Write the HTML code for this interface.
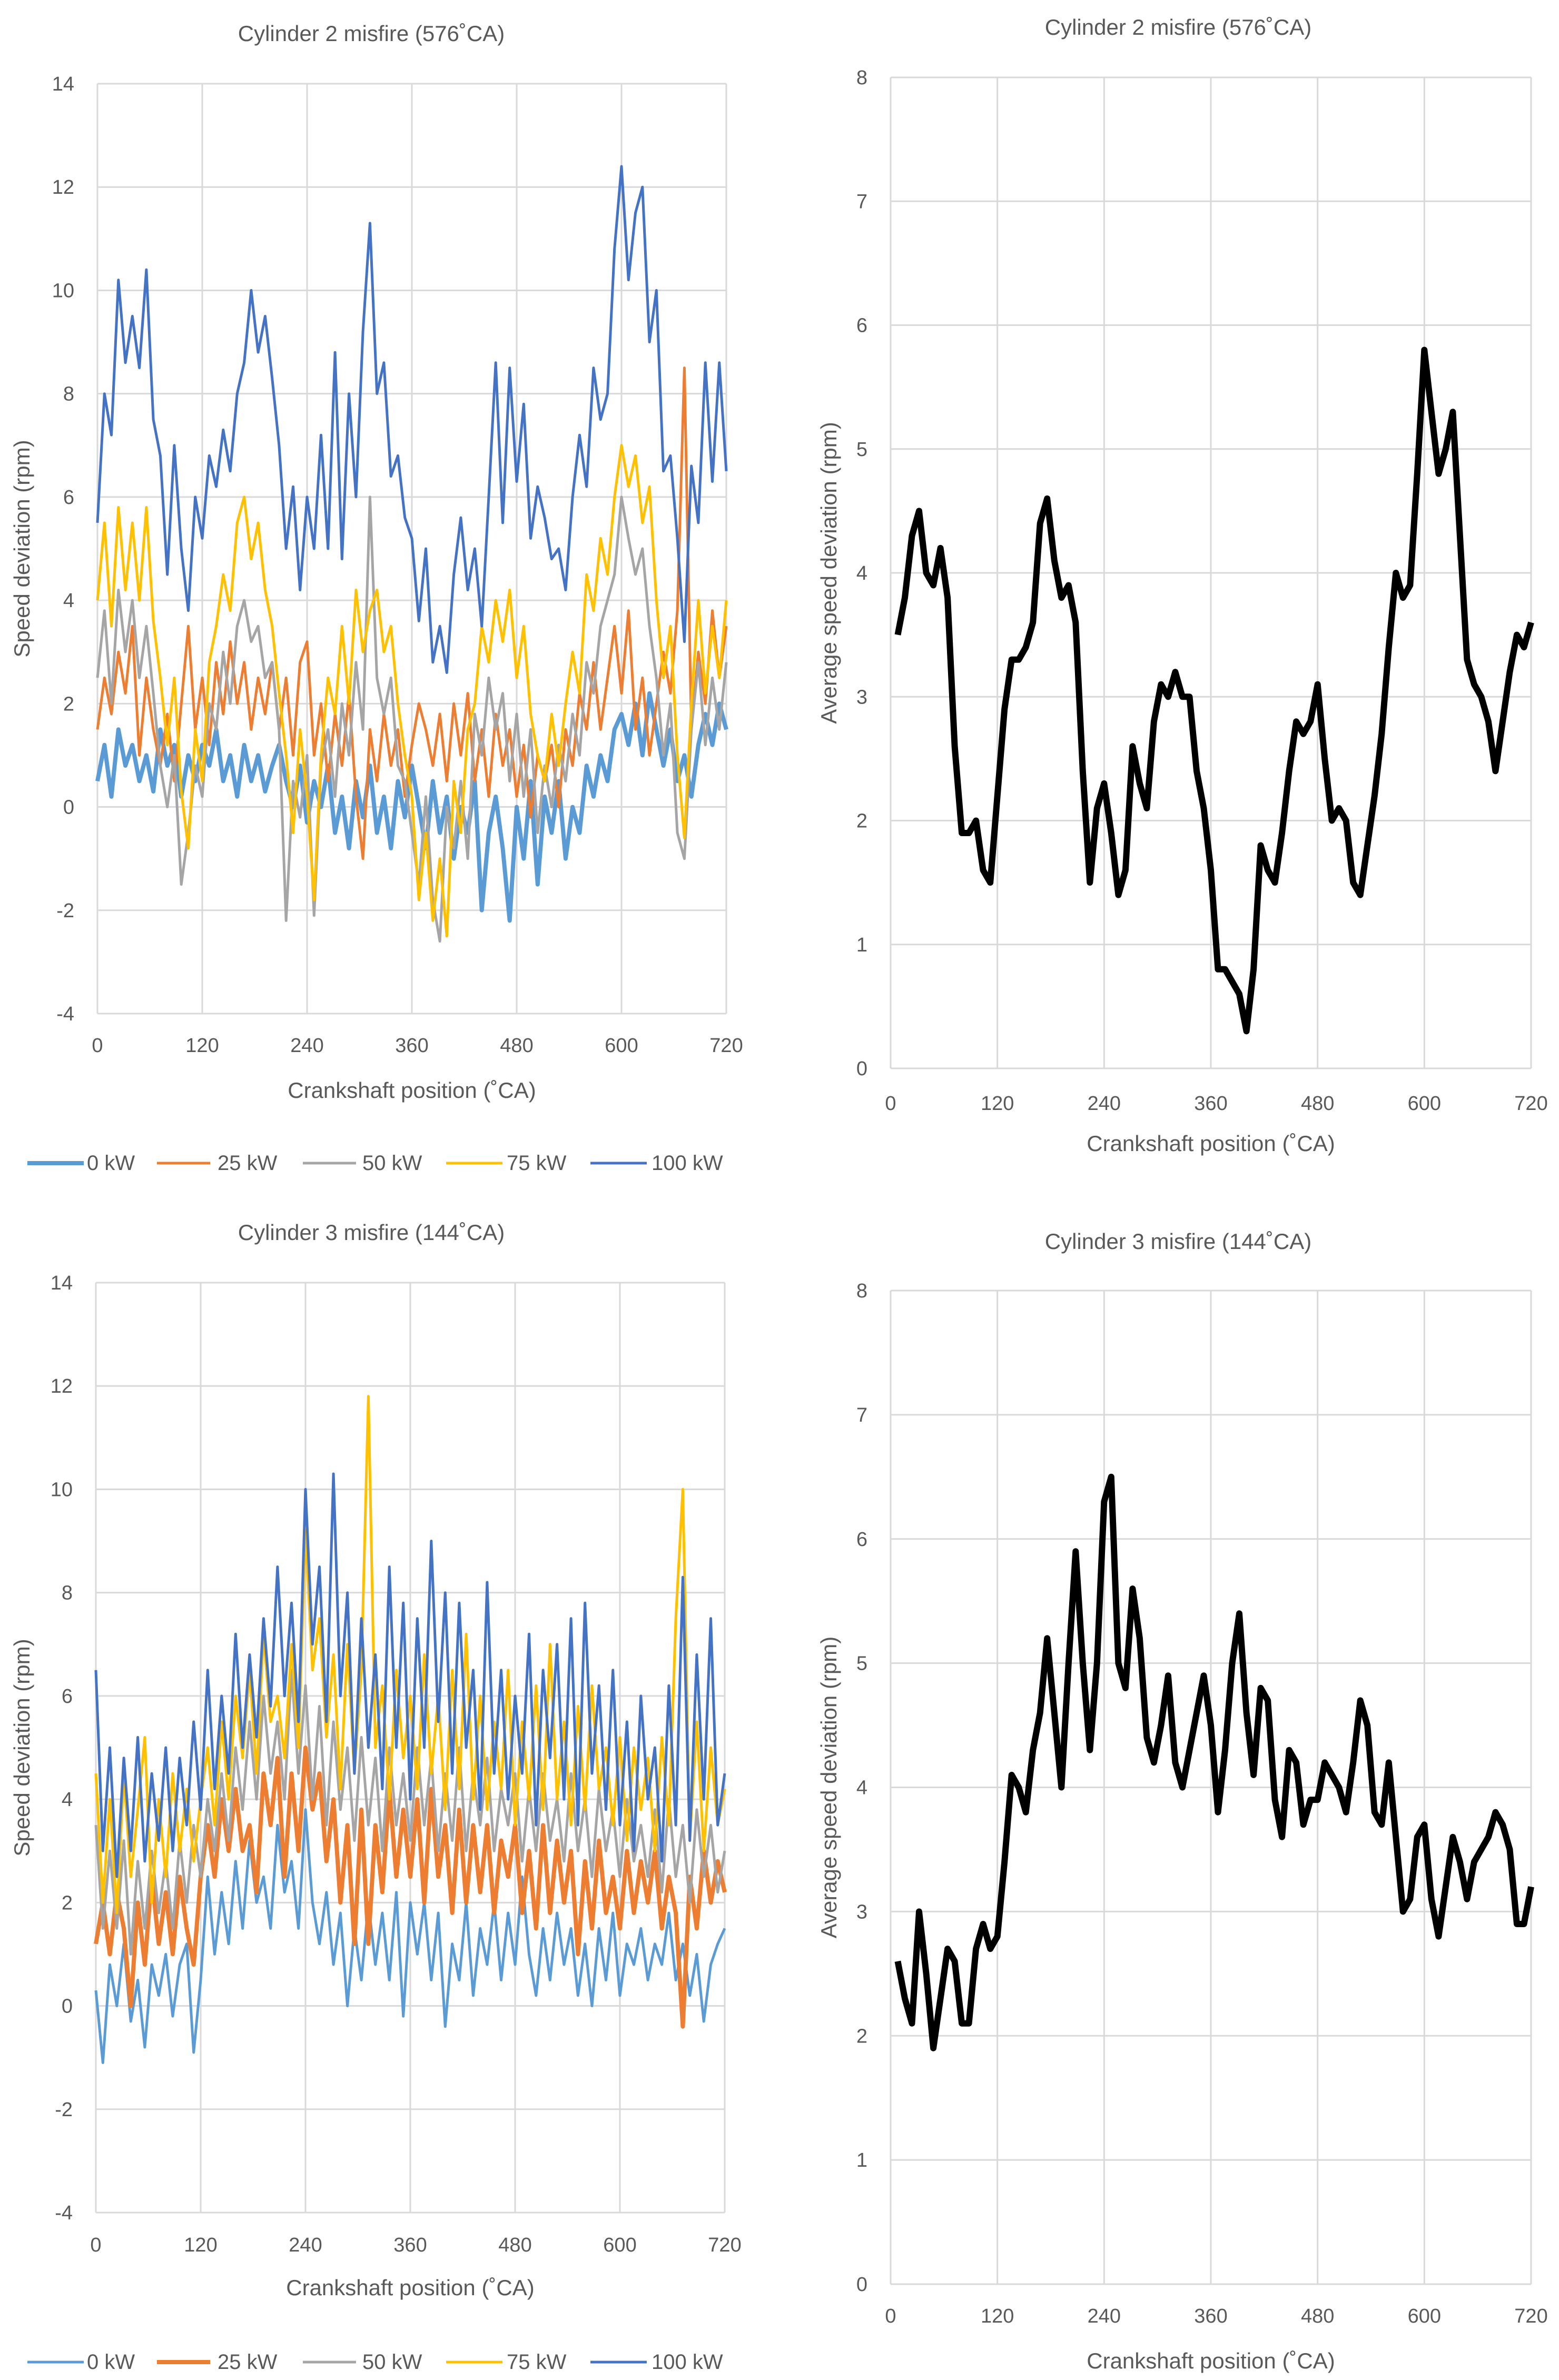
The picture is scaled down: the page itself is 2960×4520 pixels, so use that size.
<!DOCTYPE html>
<html><head><meta charset="utf-8"><style>
html,body{margin:0;padding:0;background:#fff;}
svg{display:block;font-family:"Liberation Sans",sans-serif;}
</style></head><body>
<svg id="svg" width="2960" height="4520" viewBox="0 0 2960 4520" xmlns="http://www.w3.org/2000/svg"></svg>
<script>
// ---------- data ----------
const xStep8 = [];
const t2_0kW = [0.5,1.2,0.2,1.5,0.8,1.2,0.5,1.0,0.3,1.5,0.8,1.2,0.2,1.0,0.5,1.2,0.8,1.5,0.5,1.0,0.2,1.2,0.5,1.0,0.3,0.8,1.2,0.5,0.0,0.8,-0.3,0.5,0.0,0.8,-0.5,0.2,-0.8,0.5,-0.2,0.8,-0.5,0.2,-0.8,0.5,-0.2,0.8,0.0,-0.8,0.5,-0.5,0.2,-1.0,0.0,-0.5,0.5,-2.0,-0.5,0.2,-0.8,-2.2,0.0,-1.0,0.5,-1.5,0.2,-0.5,0.5,-1.0,0.0,-0.5,0.8,0.2,1.0,0.5,1.5,1.8,1.2,2.0,1.0,2.2,1.5,0.8,1.5,0.5,1.0,0.2,1.2,1.8,1.2,2.0,1.5];
const t2_25kW = [1.5,2.5,1.8,3.0,2.2,3.5,1.0,2.5,1.5,0.8,1.8,0.5,2.0,3.5,1.5,2.5,1.2,2.8,1.8,3.2,2.0,2.8,1.5,2.5,1.8,2.8,1.5,2.5,1.0,2.8,3.2,1.0,2.0,0.5,1.8,0.8,2.2,0.2,-1.0,1.5,0.5,1.8,0.8,1.5,0.2,1.2,2.0,1.5,0.8,1.8,0.5,2.0,1.0,2.2,0.5,1.5,0.2,1.8,0.8,1.5,0.2,1.2,-0.2,1.0,0.5,1.2,0.0,1.5,0.8,2.2,1.5,2.8,1.5,2.5,3.5,2.2,3.8,1.5,2.5,1.0,2.0,3.0,2.2,3.8,8.5,1.5,3.0,2.0,3.8,2.5,3.5];
const t2_50kW = [2.5,3.8,2.0,4.2,3.0,4.0,2.5,3.5,2.2,0.8,0.0,1.0,-1.5,-0.5,0.8,0.2,2.0,1.5,3.0,2.0,3.5,4.0,3.2,3.5,2.5,2.8,1.5,-2.2,0.5,-0.2,1.0,-2.1,0.8,1.5,0.2,2.0,1.0,2.8,1.5,6.0,2.5,1.8,2.5,0.8,0.5,-0.5,-1.5,0.2,-1.8,-2.6,0.0,-0.8,0.5,-1.0,1.8,1.0,2.5,1.5,2.2,0.5,1.8,0.2,1.5,-0.5,0.8,0.0,1.2,0.5,1.8,1.0,2.8,2.2,3.5,4.0,4.5,6.0,5.2,4.5,5.0,3.5,2.5,1.0,2.0,-0.5,-1.0,1.5,2.8,1.2,2.5,1.5,2.8];
const t2_75kW = [4.0,5.5,3.5,5.8,4.2,5.5,4.0,5.8,3.6,2.5,1.2,2.5,0.3,-0.8,1.5,0.5,2.8,3.5,4.5,3.8,5.5,6.0,4.8,5.5,4.2,3.5,2.2,1.0,-0.5,1.5,0.2,-1.8,1.0,2.5,1.8,3.5,2.0,4.2,3.0,3.8,4.2,3.0,3.5,2.0,1.0,0.2,-1.8,-0.5,-2.2,-1.0,-2.5,0.5,-0.5,1.5,2.0,3.5,2.8,4.0,3.2,4.2,2.5,3.5,1.8,1.0,0.5,1.8,0.8,2.0,3.0,2.2,4.5,3.8,5.2,4.5,6.0,7.0,6.2,6.8,5.5,6.2,4.0,2.5,3.5,1.0,-0.6,2.0,4.0,2.2,3.5,2.5,4.0];
const t2_100kW = [5.5,8.0,7.2,10.2,8.6,9.5,8.5,10.4,7.5,6.8,4.5,7.0,5.0,3.8,6.0,5.2,6.8,6.2,7.3,6.5,8.0,8.6,10.0,8.8,9.5,8.3,7.0,5.0,6.2,4.2,6.0,5.0,7.2,5.0,8.8,4.8,8.0,6.0,9.2,11.3,8.0,8.6,6.4,6.8,5.6,5.2,3.6,5.0,2.8,3.5,2.6,4.5,5.6,4.2,5.0,3.5,6.0,8.6,5.5,8.5,6.3,7.8,5.2,6.2,5.6,4.8,5.0,4.2,6.0,7.2,6.2,8.5,7.5,8.0,10.8,12.4,10.2,11.5,12.0,9.0,10.0,6.5,6.8,5.2,3.2,6.6,5.5,8.6,6.3,8.6,6.5];

const t3_0kW = [0.3,-1.1,0.8,0.0,1.2,-0.3,0.5,-0.8,0.8,0.2,1.0,-0.2,0.8,1.2,-0.9,0.5,2.5,1.0,2.2,1.2,2.8,1.5,3.2,2.0,2.5,1.5,3.5,2.2,2.8,1.5,3.8,2.0,1.2,2.2,0.8,1.8,0.0,1.5,0.5,2.0,0.8,1.8,0.5,2.2,-0.2,2.0,1.0,2.0,0.5,1.8,-0.4,1.2,0.5,2.0,0.2,1.5,0.8,2.0,0.5,1.8,0.8,2.5,1.0,0.2,1.5,0.5,1.8,0.8,1.5,0.2,1.2,0.0,1.5,0.5,1.8,0.2,1.2,0.8,1.5,0.5,1.2,0.8,1.8,0.5,1.2,0.2,1.0,-0.3,0.8,1.2,1.5];
const t3_25kW = [1.2,2.0,1.0,2.2,1.5,0.0,2.0,0.8,2.5,1.2,2.2,1.0,2.5,1.5,0.8,2.5,3.5,2.5,4.0,3.0,4.2,3.0,3.5,2.2,4.5,3.5,4.8,2.5,4.5,3.0,5.0,3.8,4.5,2.8,4.0,2.0,3.5,1.2,3.8,1.2,3.5,2.2,4.2,2.5,3.8,2.5,4.0,2.0,4.2,2.5,3.5,1.8,3.8,2.0,3.5,2.2,3.5,1.8,3.2,2.5,3.5,1.8,3.0,1.5,3.5,1.8,3.2,2.0,3.0,1.0,2.8,1.5,3.2,1.8,2.5,1.5,3.0,1.8,2.8,2.0,3.0,1.5,2.5,1.8,-0.4,2.5,1.5,3.0,2.0,2.8,2.2];
const t3_50kW = [3.5,1.5,3.0,1.5,3.2,1.0,2.8,1.5,3.0,1.8,2.8,1.5,3.2,2.0,3.5,2.5,4.0,3.0,4.5,3.2,5.0,3.8,5.5,4.0,6.0,4.5,5.5,4.0,6.5,4.5,6.2,4.0,5.8,3.5,5.5,3.8,5.0,3.2,5.2,3.5,4.8,3.0,5.0,3.5,4.5,3.2,5.0,3.5,4.8,3.0,4.5,3.2,5.0,3.0,4.5,3.5,4.8,3.0,4.2,3.5,4.5,2.8,4.2,3.0,4.5,3.2,4.0,2.8,4.5,3.0,4.0,2.5,4.2,3.0,3.8,2.5,4.0,2.8,3.5,2.5,3.8,2.2,4.0,2.5,3.5,2.0,3.8,2.5,3.5,2.2,3.0];
const t3_75kW = [4.5,2.0,4.0,1.8,4.5,2.5,3.8,5.2,2.0,4.0,2.5,4.5,3.0,4.2,2.8,4.0,5.0,3.5,5.5,4.0,6.0,4.8,6.5,4.5,7.2,5.5,6.0,4.8,7.0,5.0,9.2,6.5,7.5,5.2,6.8,4.2,7.0,4.5,6.5,11.8,5.0,6.2,4.0,6.5,4.8,6.0,4.2,6.8,4.5,6.0,3.8,6.5,4.2,7.2,4.0,6.0,3.8,5.5,4.2,6.5,3.5,5.5,4.0,6.2,3.8,7.0,4.0,5.5,3.5,5.8,3.8,6.2,4.2,5.0,3.5,5.2,3.2,5.0,3.8,4.8,3.0,5.2,3.5,7.5,10.0,3.2,5.5,3.0,5.0,3.5,4.2];
const t3_100kW = [6.5,3.0,5.0,2.5,4.8,3.0,5.2,2.8,4.5,3.2,5.0,3.0,4.8,3.5,5.5,3.8,6.5,4.2,6.0,4.5,7.2,5.0,6.8,5.2,7.5,5.8,8.5,6.0,7.8,5.5,10.0,7.0,8.5,5.5,10.3,6.0,8.0,4.5,7.5,5.0,6.8,4.2,8.5,5.0,7.8,4.0,7.5,5.0,9.0,5.5,8.0,4.5,7.8,5.0,6.5,3.8,8.2,4.5,6.5,4.0,6.0,4.5,7.2,3.5,6.5,4.8,7.0,4.0,7.5,3.5,7.8,4.5,6.2,3.8,6.5,3.5,5.5,3.0,6.0,4.0,5.0,2.8,6.2,3.5,8.3,3.2,6.8,4.0,7.5,3.5,4.5];

const xAvg = [];
const avg2 = [3.5,3.8,4.3,4.5,4.0,3.9,4.2,3.8,2.6,1.9,1.9,2.0,1.6,1.5,2.2,2.9,3.3,3.3,3.4,3.6,4.4,4.6,4.1,3.8,3.9,3.6,2.4,1.5,2.1,2.3,1.9,1.4,1.6,2.6,2.3,2.1,2.8,3.1,3.0,3.2,3.0,3.0,2.4,2.1,1.6,0.8,0.8,0.7,0.6,0.3,0.8,1.8,1.6,1.5,1.9,2.4,2.8,2.7,2.8,3.1,2.5,2.0,2.1,2.0,1.5,1.4,1.8,2.2,2.7,3.4,4.0,3.8,3.9,4.8,5.8,5.3,4.8,5.0,5.3,4.3,3.3,3.1,3.0,2.8,2.4,2.8,3.2,3.5,3.4,3.6];
const avg3 = [2.6,2.3,2.1,3.0,2.5,1.9,2.3,2.7,2.6,2.1,2.1,2.7,2.9,2.7,2.8,3.4,4.1,4.0,3.8,4.3,4.6,5.2,4.6,4.0,5.0,5.9,5.0,4.3,5.0,6.3,6.5,5.0,4.8,5.6,5.2,4.4,4.2,4.5,4.9,4.2,4.0,4.3,4.6,4.9,4.5,3.8,4.3,5.0,5.4,4.6,4.1,4.8,4.7,3.9,3.6,4.3,4.2,3.7,3.9,3.9,4.2,4.1,4.0,3.8,4.2,4.7,4.5,3.8,3.7,4.2,3.6,3.0,3.1,3.6,3.7,3.1,2.8,3.2,3.6,3.4,3.1,3.4,3.5,3.6,3.8,3.7,3.5,2.9,2.9,3.2];
for (let i = 0; i <= 90; i++) xStep8.push(i * 8);
for (let i = 1; i <= 90; i++) xAvg.push(i * 8);

const seriesNames = ["0 kW","25 kW","50 kW","75 kW","100 kW"];
const seriesColors = ["#5B9BD5","#ED7D31","#A5A5A5","#FFC000","#4472C4"];
const xTicks = [0,120,240,360,480,600,720];
const yTicksLeft = [-4,-2,0,2,4,6,8,10,12,14];
const yTicksRight = [0,1,2,3,4,5,6,7,8];

// ---------- drawing ----------
const NS = "http://www.w3.org/2000/svg";
const svg = document.getElementById("svg");
function mk(tag, attrs, parent) {
  const e = document.createElementNS(NS, tag);
  for (const k in attrs) e.setAttribute(k, attrs[k]);
  (parent || svg).appendChild(e);
  return e;
}
function txt(s, attrs, parent) { const t = mk("text", attrs, parent); t.textContent = s; return t; }

function chart(cfg) {
  const g = mk("g", {});
  
  
  const sx = v => cfg.x0 + (v - 0) / 720 * (cfg.x1 - cfg.x0);
  const sy = v => cfg.yb + (v - cfg.ymin) / (cfg.ymax - cfg.ymin) * (cfg.yt - cfg.yb);
  for (const v of cfg.yTicks) {
    const l = mk("line", {x1: cfg.x0, x2: cfg.x1, y1: sy(v), y2: sy(v), stroke: "#d9d9d9", "stroke-width": 3}, g);
    
    
    const t = txt(String(v), {x: cfg.x0 - 44, y: sy(v) + 13, "text-anchor": "end", "font-size": 38, fill: "#595959"}, g);
    
    
  }
  for (const v of xTicks) {
    const l = mk("line", {x1: sx(v), x2: sx(v), y1: cfg.yt, y2: cfg.yb, stroke: "#d9d9d9", "stroke-width": 3}, g);
    
    
    const t = txt(String(v), {x: sx(v), y: cfg.tickY, "text-anchor": "middle", "font-size": 38, fill: "#595959"}, g);
    
    
  }
  cfg.series.forEach((s, i) => {
    const pts = s.vals.map((v, j) => sx(s.xs[j]).toFixed(1) + "," + sy(v).toFixed(1)).join(" ");
    const p = mk("polyline", {points: pts, fill: "none", stroke: s.color, "stroke-width": s.w, "stroke-linejoin": "round"}, g);
    
    
  });
  const tt = txt(cfg.title, {x: cfg.titleX, y: cfg.titleY, "text-anchor": "middle", "font-size": 42, fill: "#595959"}, g);
  
  
  const xt = txt("Crankshaft position (˚CA)", {x: (cfg.x0 + cfg.x1) / 2, y: cfg.xTitleY, "text-anchor": "middle", "font-size": 42, fill: "#595959"}, g);
  
  
  const yc = (cfg.yt + cfg.yb) / 2;
  const yt = txt(cfg.yTitle, {x: cfg.yTitleX, y: yc, "text-anchor": "middle", "font-size": 42, fill: "#595959", transform: "rotate(-90 " + cfg.yTitleX + " " + yc + ")"}, g);
  
  
  if (cfg.legendY) {
    const lx = [[52,159,165],[298,399,413],[575,676,688],[847,954,962],[1121,1228,1237]];
    seriesNames.forEach((n, i) => {
      const lg = mk("g", {}, g);
      
      
      mk("line", {x1: lx[i][0], x2: lx[i][1], y1: cfg.legendY - 13, y2: cfg.legendY - 13, stroke: seriesColors[i], "stroke-width": cfg.legendW[i]}, lg);
      txt(n, {x: lx[i][2], y: cfg.legendY, "font-size": 40, fill: "#595959"}, lg);
    });
  }
}

const w2 = [8,5,5,5,5], w3 = [5,8,5,5,5];
const s2 = [t2_0kW,t2_25kW,t2_50kW,t2_75kW,t2_100kW];
const s3 = [t3_0kW,t3_25kW,t3_50kW,t3_75kW,t3_100kW];

chart({name: "chart-cyl2-speed", x0: 185, x1: 1379, yt: 159, yb: 1925, ymin: -4, ymax: 14, yTicks: yTicksLeft,
  tickY: 1998, xTitleY: 2085, titleX: 705, titleY: 78, yTitle: "Speed deviation (rpm)", yTitleX: 56, title: "Cylinder 2 misfire (576˚CA)",
  legendY: 2222, legendW: w2,
  series: [0,1,2,3,4].map(i => ({xs: xStep8, vals: s2[i], color: seriesColors[i], w: w2[i], key: i}))});
chart({name: "chart-cyl2-average", x0: 1691, x1: 2907, yt: 147, yb: 2029, ymin: 0, ymax: 8, yTicks: yTicksRight,
  tickY: 2108, xTitleY: 2186, titleX: 2237, titleY: 66, yTitle: "Average speed deviation (rpm)", yTitleX: 1588, title: "Cylinder 2 misfire (576˚CA)",
  series: [{xs: xAvg, vals: avg2, color: "#000", w: 12, key: "avg"}]});
chart({name: "chart-cyl3-speed", x0: 182, x1: 1376, yt: 2436, yb: 4202, ymin: -4, ymax: 14, yTicks: yTicksLeft,
  tickY: 4276, xTitleY: 4359, titleX: 705, titleY: 2355, yTitle: "Speed deviation (rpm)", yTitleX: 56, title: "Cylinder 3 misfire (144˚CA)",
  legendY: 4499, legendW: w3,
  series: [0,1,2,3,4].map(i => ({xs: xStep8, vals: s3[i], color: seriesColors[i], w: w3[i], key: i}))});
chart({name: "chart-cyl3-average", x0: 1691, x1: 2907, yt: 2451, yb: 4338, ymin: 0, ymax: 8, yTicks: yTicksRight,
  tickY: 4411, xTitleY: 4498, titleX: 2237, titleY: 2372, yTitle: "Average speed deviation (rpm)", yTitleX: 1588, title: "Cylinder 3 misfire (144˚CA)",
  series: [{xs: xAvg, vals: avg3, color: "#000", w: 12, key: "avg"}]});
</script>
</body></html>
